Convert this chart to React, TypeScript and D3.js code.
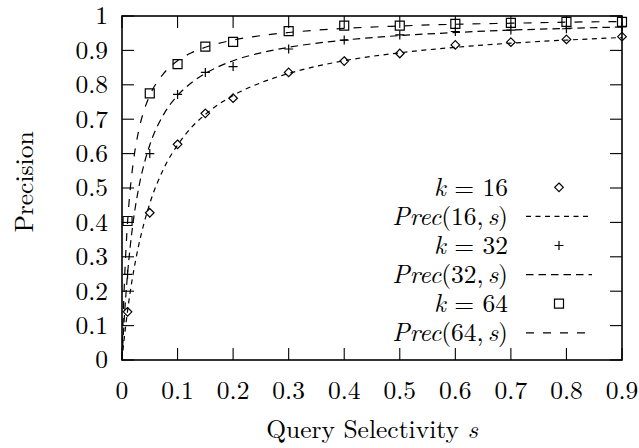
import React from 'react'
import * as d3 from 'd3'

const W = 639
const H = 448
const margin = { top: 16, right: 17, bottom: 88, left: 122 }

// measured points (query selectivity -> precision)
const sPoints = [0.01, 0.05, 0.1, 0.15, 0.2, 0.3, 0.4, 0.5, 0.6, 0.7, 0.8, 0.9]
const k16Points = [0.14, 0.428, 0.627, 0.717, 0.761, 0.836, 0.869, 0.891, 0.916, 0.924, 0.932, 0.94]
const k32Points = [0.249, 0.6, 0.772, 0.836, 0.853, 0.904, 0.93, 0.945, 0.955, 0.959, 0.963, 0.968]
const k64Points = [0.404, 0.775, 0.86, 0.911, 0.925, 0.956, 0.972, 0.972, 0.977, 0.98, 0.983, 0.983]

// Prec(k, s) curves
const curveS = [0, 0.001, 0.0025, 0.005, 0.0075, 0.01, 0.015, 0.02, 0.03, 0.04, 0.05, 0.075, 0.1, 0.125, 0.15, 0.2, 0.25, 0.3, 0.4, 0.5, 0.6, 0.7, 0.8, 0.9]
const prec16 = [0, 0.016, 0.04, 0.077, 0.111, 0.143, 0.2, 0.25, 0.333, 0.4, 0.455, 0.556, 0.625, 0.676, 0.714, 0.769, 0.806, 0.833, 0.87, 0.893, 0.909, 0.921, 0.93, 0.9375]
const prec32 = [0, 0.032, 0.077, 0.143, 0.2, 0.25, 0.333, 0.4, 0.5, 0.571, 0.625, 0.714, 0.769, 0.806, 0.833, 0.87, 0.893, 0.909, 0.93, 0.943, 0.952, 0.959, 0.964, 0.968]
const prec64 = [0, 0.0625, 0.143, 0.25, 0.333, 0.4, 0.5, 0.571, 0.667, 0.727, 0.769, 0.833, 0.87, 0.893, 0.909, 0.93, 0.943, 0.952, 0.964, 0.971, 0.976, 0.979, 0.982, 0.984]

const xTickLabels = ['0', '0.1', '0.2', '0.3', '0.4', '0.5', '0.6', '0.7', '0.8', '0.9']
const yTickLabels = ['0', '0.1', '0.2', '0.3', '0.4', '0.5', '0.6', '0.7', '0.8', '0.9', '1']

const kValues = ['16', '32', '64']
const markerKinds = ['diamond', 'plus', 'square']
const dashes = ['5,4.5', '7.5,5', '8,9']

const FONT = 'Latin Modern Roman'
const FS = 25.5

const markerPath = (kind: string) => {
  if (kind === 'diamond') return 'M0,-4.3L4.3,0L0,4.3L-4.3,0Z'
  if (kind === 'square') return 'M-4.5,-4.5H4.5V4.5H-4.5Z'
  return 'M-4.5,0H4.5M0,-4.5V4.5'
}

export default function App() {
  const innerWidth = W - margin.left - margin.right
  const innerHeight = H - margin.top - margin.bottom
  const x0 = margin.left
  const x1 = margin.left + innerWidth
  const y0 = margin.top + innerHeight
  const y1 = margin.top
  const tickLen = 12

  const xScale = d3.scaleLinear().domain([0, 0.9]).range([x0, x1])
  const yScale = d3.scaleLinear().domain([0, 1]).range([y0, y1])

  const line = d3.line<[number, number]>()
    .x(d => xScale(d[0]))
    .y(d => yScale(d[1]))
    .curve(d3.curveMonotoneX)

  const curves = [prec16, prec32, prec64]
  const pointSets = [k16Points, k32Points, k64Points]

  // legend geometry
  const rowTop = 187.3
  const rowStep = 29.1
  const textX = 508
  const sampleX0 = 526
  const sampleX1 = 592

  return (
    <svg
      width={W}
      height={H}
      style={{ position: 'absolute', left: 0, top: 0, background: '#fff', display: 'block' }}
    >
      {/* inward ticks on all four sides */}
      <g stroke="#000" strokeWidth={1.1}>
        {xTickLabels.map(l => (
          <g key={'x' + l}>
            <line x1={xScale(+l)} x2={xScale(+l)} y1={y0} y2={y0 - tickLen} />
            <line x1={xScale(+l)} x2={xScale(+l)} y1={y1} y2={y1 + tickLen} />
          </g>
        ))}
        {yTickLabels.map(l => (
          <g key={'y' + l}>
            <line x1={x0} x2={x0 + tickLen} y1={yScale(+l)} y2={yScale(+l)} />
            <line x1={x1} x2={x1 - tickLen} y1={yScale(+l)} y2={yScale(+l)} />
          </g>
        ))}
      </g>

      {/* curves */}
      {curves.map((vals, i) => (
        <path
          key={'c' + i}
          d={line(curveS.map((s, j) => [s, vals[j]] as [number, number])) || ''}
          fill="none"
          stroke="#000"
          strokeWidth={1.2}
          strokeDasharray={dashes[i]}
        />
      ))}

      {/* markers */}
      {pointSets.map((vals, i) => (
        <g key={'m' + i} fill="none" stroke="#000" strokeWidth={1.2}>
          {sPoints.map((s, j) => (
            <path
              key={j}
              transform={`translate(${xScale(s)},${yScale(vals[j])})`}
              d={markerPath(markerKinds[i])}
            />
          ))}
        </g>
      ))}

      {/* frame */}
      <rect x={x0} y={y1} width={innerWidth} height={innerHeight} fill="none" stroke="#000" strokeWidth={1.6} />

      <g fontFamily={FONT} fontSize={FS} fill="#000">
        {xTickLabels.map(l => (
          <text key={'xl' + l} x={xScale(+l)} y={399} textAnchor="middle">{l}</text>
        ))}
        {yTickLabels.map(l => (
          <text key={'yl' + l} x={108} y={yScale(+l) + 8.3} textAnchor="end">{l}</text>
        ))}

        {/* legend */}
        {kValues.map((k, i) => {
          const yMark = rowTop + rowStep * (2 * i)
          const yLine = rowTop + rowStep * (2 * i + 1)
          return (
            <g key={'lg' + k}>
              <text x={textX} y={yMark + 8.5} textAnchor="end">
                <tspan fontStyle="italic">k</tspan>
                <tspan>{` = ${k}`}</tspan>
              </text>
              <path
                transform={`translate(${(sampleX0 + sampleX1) / 2},${yMark})`}
                d={markerPath(markerKinds[i])}
                fill="none"
                stroke="#000"
                strokeWidth={1.2}
              />
              <text x={textX} y={yLine + 8.5} textAnchor="end">
                <tspan fontStyle="italic">Prec</tspan>
                <tspan>{`(${k},`}</tspan>
                <tspan fontStyle="italic" dx={4}>s</tspan>
                <tspan>)</tspan>
              </text>
              <line
                x1={sampleX0}
                x2={sampleX1}
                y1={yLine}
                y2={yLine}
                stroke="#000"
                strokeWidth={1.2}
                strokeDasharray={dashes[i]}
              />
            </g>
          )
        })}

        {/* axis titles */}
        <text x={(x0 + x1) / 2} y={438} textAnchor="middle">
          <tspan>Query Selectivity </tspan>
          <tspan fontStyle="italic">s</tspan>
        </text>
        <text transform="translate(33,182) rotate(-90)" textAnchor="middle">Precision</text>
      </g>
    </svg>
  )
}
